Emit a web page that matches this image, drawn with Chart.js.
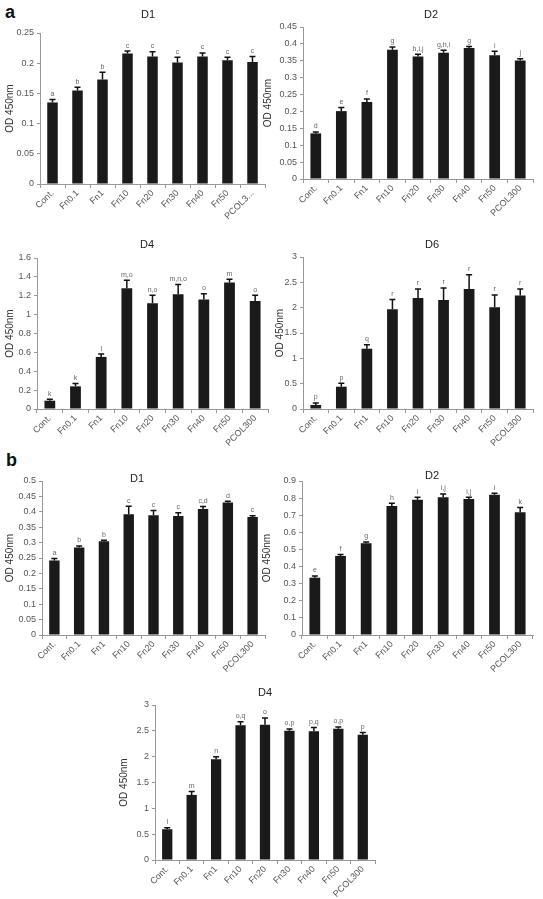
<!DOCTYPE html>
<html>
<head>
<meta charset="utf-8">
<script src="https://cdn.jsdelivr.net/npm/chart.js@4/dist/chart.umd.min.js"></script>
<style>
    body { margin: 0; background: #fff; width: 543px; height: 899px; position: relative; overflow: hidden; font-family: "Liberation Sans", Arial, sans-serif; }
    canvas { position: absolute; }
    .panel { position: absolute; font-weight: bold; font-size: 18px; color: #111; }
</style>
</head>
<body>
<div class="panel" style="left:5px;top:2px">a</div>
<div class="panel" style="left:6px;top:450px">b</div>

<script>
// categories
const categories = ["Cont.", "Fn0.1", "Fn1", "Fn10", "Fn20", "Fn30", "Fn40", "Fn50", "PCOL300"];
const categoriesA1 = ["Cont.", "Fn0.1", "Fn1", "Fn10", "Fn20", "Fn30", "Fn40", "Fn50", "PCOL3..."];

// panel a
const aD1 = [0.135, 0.155, 0.173, 0.216, 0.211, 0.201, 0.211, 0.205, 0.202];
const aD1Err = [0.005, 0.005, 0.012, 0.004, 0.008, 0.009, 0.006, 0.005, 0.009];
const aD1Sig = ["a", "b", "b", "c", "c", "c", "c", "c", "c"];

const aD2 = [0.135, 0.201, 0.228, 0.383, 0.363, 0.374, 0.388, 0.366, 0.351];
const aD2Err = [0.004, 0.011, 0.009, 0.008, 0.006, 0.007, 0.004, 0.012, 0.005];
const aD2Sig = ["d", "e", "f", "g", "h,i,j", "g,h,i", "g", "i", "j"];

const aD4 = [0.088, 0.24, 0.552, 1.28, 1.12, 1.215, 1.16, 1.34, 1.145];
const aD4Err = [0.015, 0.03, 0.03, 0.085, 0.085, 0.105, 0.06, 0.035, 0.06];
const aD4Sig = ["k", "k", "l", "m,o", "n,o", "m,n,o", "o", "m", "o"];

const aD6 = [0.08, 0.44, 1.19, 1.97, 2.19, 2.15, 2.37, 2.01, 2.24];
const aD6Err = [0.04, 0.07, 0.08, 0.19, 0.18, 0.24, 0.28, 0.24, 0.13];
const aD6Sig = ["p", "p", "q", "r", "r", "r", "r", "r", "r"];

// panel b
const bD1 = [0.242, 0.284, 0.304, 0.392, 0.389, 0.386, 0.409, 0.43, 0.383];
const bD1Err = [0.006, 0.005, 0.004, 0.026, 0.015, 0.011, 0.008, 0.004, 0.004];
const bD1Sig = ["a", "b", "b", "c", "c", "c", "c,d", "d", "c"];

const bD2 = [0.335, 0.462, 0.536, 0.754, 0.791, 0.805, 0.795, 0.82, 0.717];
const bD2Err = [0.01, 0.008, 0.008, 0.016, 0.014, 0.019, 0.01, 0.008, 0.028];
const bD2Sig = ["e", "f", "g", "h", "i", "i,j", "i,j", "i", "k"];

const bD4 = [0.595, 1.26, 1.95, 2.61, 2.62, 2.5, 2.49, 2.54, 2.425];
const bD4Err = [0.03, 0.065, 0.05, 0.065, 0.13, 0.035, 0.075, 0.035, 0.045];
const bD4Sig = ["l", "m", "n", "o,q", "o", "o,p", "p,q", "o,p", "p"];

// y axis ranges
const yMax = { aD1: 0.25, aD2: 0.45, aD4: 1.6, aD6: 3, bD1: 0.5, bD2: 0.9, bD4: 3 };
const yStep = { aD1: 0.05, aD2: 0.05, aD4: 0.2, aD6: 0.5, bD1: 0.05, bD2: 0.1, bD4: 0.5 };

// page layout: canvas box [left, top, w, h], plot area [left, top, right, bottom], title centre
const plates = [
    { key: "aD1", title: "D1", labels: categoriesA1, values: aD1, errors: aD1Err, letters: aD1Sig,
      box: [0, 0, 272, 232], plot: [40, 33, 265, 184], titleAt: [148, 15] },
    { key: "aD2", title: "D2", labels: categories, values: aD2, errors: aD2Err, letters: aD2Sig,
      box: [258, 0, 285, 232], plot: [303, 27, 533, 179], titleAt: [431, 15] },
    { key: "aD4", title: "D4", labels: categories, values: aD4, errors: aD4Err, letters: aD4Sig,
      box: [0, 232, 272, 236], plot: [37, 258, 268, 409], titleAt: [147, 245] },
    { key: "aD6", title: "D6", labels: categories, values: aD6, errors: aD6Err, letters: aD6Sig,
      box: [270, 232, 273, 236], plot: [303, 257, 533, 409], titleAt: [432, 245] },
    { key: "bD1", title: "D1", labels: categories, values: bD1, errors: bD1Err, letters: bD1Sig,
      box: [0, 468, 272, 215], plot: [42, 481, 265, 635], titleAt: [137, 479] },
    { key: "bD2", title: "D2", labels: categories, values: bD2, errors: bD2Err, letters: bD2Sig,
      box: [257, 468, 286, 215], plot: [302, 481, 533, 635], titleAt: [432, 476] },
    { key: "bD4", title: "D4", labels: categories, values: bD4, errors: bD4Err, letters: bD4Sig,
      box: [114, 680, 290, 219], plot: [155, 705, 375, 860], titleAt: [265, 693] }
];

// error bars, significance letters and panel title
const extras = {
    id: "extras",
    afterDatasetsDraw(chart, args, opts) {
        const { ctx, scales: { x, y } } = chart;
        const data = chart.data.datasets[0].data;
        ctx.save();
        data.forEach((v, i) => {
            const px = x.getPixelForValue(i);
            const y0 = y.getPixelForValue(v);
            const y1 = y.getPixelForValue(v + opts.errors[i]);
            ctx.strokeStyle = "#111";
            ctx.lineWidth = 1.5;
            ctx.beginPath();
            ctx.moveTo(px, y0);
            ctx.lineTo(px, y1);
            ctx.moveTo(px - 3, y1);
            ctx.lineTo(px + 3, y1);
            ctx.stroke();
            ctx.fillStyle = "#666";
            ctx.font = '7px "Liberation Sans"';
            ctx.textAlign = "center";
            ctx.textBaseline = "bottom";
            ctx.fillText(opts.letters[i], px, y1 - 2);
        });
        ctx.fillStyle = "#222";
        ctx.font = '11px "Liberation Sans"';
        ctx.textAlign = "center";
        ctx.textBaseline = "middle";
        ctx.fillText(opts.title, opts.titleX, opts.titleY);
        ctx.restore();
    }
};

plates.forEach(p => {
    const [bx, by, bw, bh] = p.box;
    const [pl, pt, pr, pb] = p.plot;
    const canvas = document.createElement("canvas");
    canvas.width = bw;
    canvas.height = bh;
    canvas.style.left = bx + "px";
    canvas.style.top = by + "px";
    document.body.appendChild(canvas);

    const yWidth = pl - bx;
    const xHeight = by + bh - pb;

    new Chart(canvas, {
        type: "bar",
        data: {
            labels: p.labels,
            datasets: [{
                data: p.values,
                backgroundColor: "#1a1a1a",
                barPercentage: 0.42,
                categoryPercentage: 1
            }]
        },
        options: {
            responsive: false,
            animation: false,
            layout: { padding: { left: 0, top: pt - by, right: bx + bw - pr, bottom: 0 } },
            plugins: {
                legend: { display: false },
                tooltip: { enabled: false },
                title: { display: false },
                extras: {
                    errors: p.errors,
                    letters: p.letters,
                    title: p.title,
                    titleX: p.titleAt[0] - bx,
                    titleY: p.titleAt[1] - by
                }
            },
            scales: {
                x: {
                    grid: { drawOnChartArea: false, drawTicks: true, tickLength: 4, color: "#999" },
                    border: { color: "#999" },
                    ticks: {
                        autoSkip: false, minRotation: 45, maxRotation: 45, padding: 0,
                        color: "#555", font: { family: "Liberation Sans", size: 9 }
                    },
                    afterFit(scale) { scale.height = xHeight; scale.paddingLeft = 0; scale.paddingRight = 0; }
                },
                y: {
                    min: 0,
                    max: yMax[p.key],
                    grid: { drawOnChartArea: false, drawTicks: true, tickLength: 3, color: "#999" },
                    border: { color: "#999" },
                    ticks: {
                        stepSize: yStep[p.key], padding: 3, color: "#555",
                        font: { family: "Liberation Sans", size: 9 },
                        callback: v => String(Number(v.toFixed(2)))
                    },
                    title: {
                        display: true, text: "OD 450nm", color: "#333",
                        font: { family: "Liberation Sans", size: 10 }
                    },
                    afterFit(scale) { scale.width = yWidth; scale.paddingTop = 0; scale.paddingBottom = 0; }
                }
            }
        },
        plugins: [extras]
    });
});
</script>
</body>
</html>
